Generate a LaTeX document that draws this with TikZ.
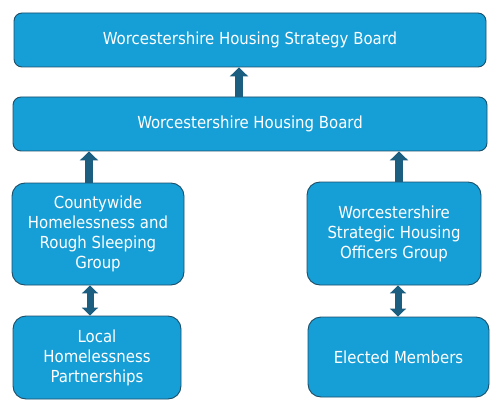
\documentclass[tikz,border=0pt]{standalone}
\usepackage{fontspec}
\setmainfont{DejaVu Sans Condensed}
\usetikzlibrary{arrows.meta,calc}
\definecolor{boxfill}{RGB}{22,158,214}
\definecolor{boxline}{RGB}{28,78,104}
\definecolor{arrfill}{RGB}{27,94,128}
\tikzset{
  box/.style={draw=boxline,line width=0.9pt,fill=boxfill,text=white,align=center,
    font=\fontsize{16.6}{20}\selectfont,inner sep=0pt},
  uparr/.style={draw=arrfill,line width=8pt,-{Triangle[width=18pt,length=9pt]}},
  dblarr/.style={draw=arrfill,line width=7pt,{Triangle[width=16pt,length=8pt]}-{Triangle[width=16pt,length=8pt]}}
}
\begin{document}
\begin{tikzpicture}[x=1pt,y=-1pt]
\useasboundingbox (0,0) rectangle (500,414);
\node[box,rounded corners=8pt,minimum width=472pt,minimum height=54pt] (b1) at (250,40) {Worcestershire Housing Strategy Board};
\node[box,rounded corners=8pt,minimum width=474pt,minimum height=54pt] (b2) at (250,124) {Worcestershire Housing Board};
\node[box,rounded corners=13pt,minimum width=172pt,minimum height=102pt] (b3) at (98,234) {Countywide\\Homelessness and\\Rough Sleeping\\Group};
\node[box,rounded corners=13pt,minimum width=168pt,minimum height=83pt] (b4) at (97,357.5) {Local\\Homelessness\\Partnerships};
\node[box,rounded corners=13pt,minimum width=174pt,minimum height=103pt] (b5) at (394,233.5) {Worcestershire\\Strategic Housing\\Officers Group};
\node[box,rounded corners=13pt,minimum width=181pt,minimum height=80pt] (b6) at (398.5,357) {Elected Members};
\coordinate (x1) at (239,0);
\coordinate (x2) at (89,0);
\coordinate (x3) at (399,0);
\coordinate (x4) at (90,0);
\coordinate (x5) at (398,0);
\draw[uparr] (b2.north -| x1) -- (b1.south -| x1);
\draw[uparr] (b3.north -| x2) -- (b2.south -| x2);
\draw[uparr] (b5.north -| x3) -- (b2.south -| x3);
\draw[dblarr] (b3.south -| x4) -- (b4.north -| x4);
\draw[dblarr] (b5.south -| x5) -- (b6.north -| x5);
\end{tikzpicture}
\end{document}
